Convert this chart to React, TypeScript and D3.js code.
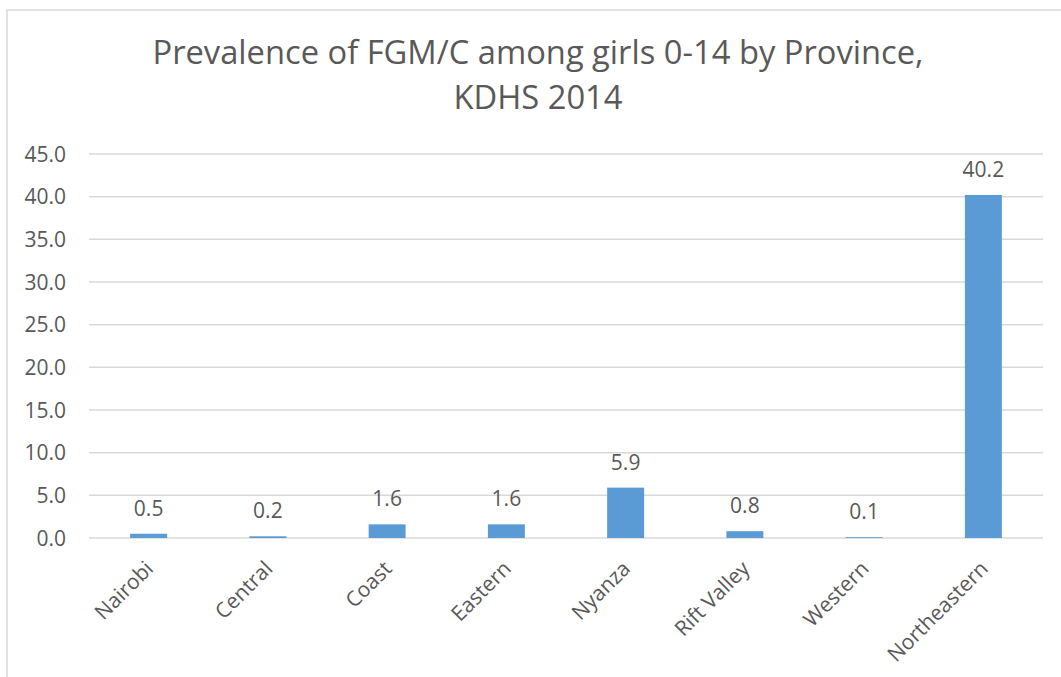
import * as d3 from "d3";
import { useEffect, useRef } from "react";

const provinces = [
  "Nairobi",
  "Central",
  "Coast",
  "Eastern",
  "Nyanza",
  "Rift Valley",
  "Western",
  "Northeastern",
];
const prevalence = [0.5, 0.2, 1.6, 1.6, 5.9, 0.8, 0.1, 40.2];
const yTicks = [0, 5, 10, 15, 20, 25, 30, 35, 40, 45];
const titleLines = ["Prevalence of FGM/C among girls 0-14 by Province,", "KDHS 2014"];

const FONT = "'Open Sans', 'Segoe UI', sans-serif";
const TEXT = "#595959";
const GRID = "#D9D9D9";
const BAR = "#5B9BD5";

const App = () => {
  const ref = useRef<SVGSVGElement>(null);
  const width = 1061;
  const height = 677;
  const plot = { left: 89, right: 1043, top: 154, bottom: 538 };

  useEffect(() => {
    const svg = d3.select(ref.current);
    svg.selectAll("*").remove();

    const x = d3
      .scaleBand<string>()
      .domain(provinces)
      .range([plot.left, plot.right]);
    const y = d3.scaleLinear().domain([0, 45]).range([plot.bottom, plot.top]);
    const barW = x.bandwidth() * 0.31;

    // chart border (only top and left visible, rest is cropped)
    svg
      .append("rect")
      .attr("x", 7)
      .attr("y", 10)
      .attr("width", 1080)
      .attr("height", 700)
      .attr("fill", "#fff")
      .attr("stroke", GRID)
      .attr("stroke-width", 1.5);

    svg
      .append("text")
      .attr("text-anchor", "middle")
      .attr("font-family", FONT)
      .attr("font-size", 32.7)
      .attr("fill", TEXT)
      .selectAll("tspan")
      .data(titleLines)
      .join("tspan")
      .attr("x", 538)
      .attr("y", (d, i) => 64 + i * 45)
      .text((d) => d);

    // gridlines
    svg
      .append("g")
      .selectAll("line")
      .data(yTicks)
      .join("line")
      .attr("x1", plot.left)
      .attr("x2", plot.right)
      .attr("y1", (d) => y(d))
      .attr("y2", (d) => y(d))
      .attr("stroke", GRID)
      .attr("stroke-width", 1.5);

    svg
      .append("g")
      .selectAll("text")
      .data(yTicks)
      .join("text")
      .attr("x", 66)
      .attr("y", (d) => y(d))
      .attr("dy", "0.36em")
      .attr("text-anchor", "end")
      .attr("font-family", FONT)
      .attr("font-size", 21)
      .attr("fill", TEXT)
      .text((d) => d.toFixed(1));

    const bars = svg
      .append("g")
      .selectAll("g")
      .data(provinces)
      .join("g")
      .attr("transform", (d) => `translate(${x(d)! + x.bandwidth() / 2},0)`);

    bars
      .append("rect")
      .attr("x", -barW / 2)
      .attr("width", barW)
      .attr("y", (d, i) => y(prevalence[i]))
      .attr("height", (d, i) => plot.bottom - y(prevalence[i]))
      .attr("fill", BAR);

    bars
      .append("text")
      .attr("y", (d, i) => y(prevalence[i]) - 18)
      .attr("text-anchor", "middle")
      .attr("font-family", FONT)
      .attr("font-size", 21)
      .attr("fill", TEXT)
      .text((d, i) => prevalence[i].toFixed(1));

    bars
      .append("text")
      .attr("transform", `translate(6,${plot.bottom + 32}) rotate(-45)`)
      .attr("text-anchor", "end")
      .attr("font-family", FONT)
      .attr("font-size", 21)
      .attr("fill", TEXT)
      .text((d) => d);
  }, []);

  return (
    <svg
      ref={ref}
      width={width}
      height={height}
      style={{ position: "absolute", left: 0, top: 0, background: "#fff" }}
    />
  );
};

export default App;
